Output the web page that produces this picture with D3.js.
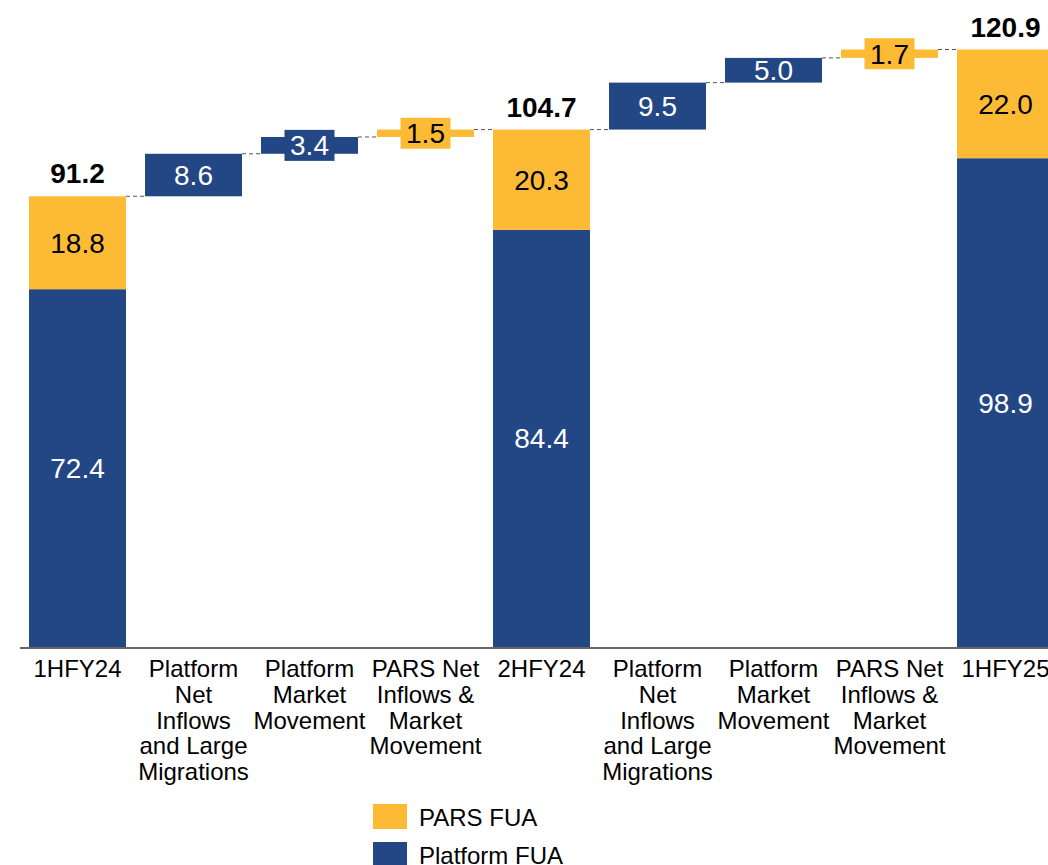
<!DOCTYPE html>
<html>
<head>
<meta charset="utf-8">
<script src="https://cdn.jsdelivr.net/npm/d3@7"></script>
<style>
  html, body { margin: 0; padding: 0; background: #fff; overflow: hidden; }
  svg { display: block; font-family: "Liberation Sans", Arial, sans-serif; }
</style>
</head>
<body>
<svg id="chart" width="1048" height="865"></svg>
<script>
// ---- Data ----
const categories = ["1HFY24", "Platform Net Inflows and Large Migrations", "Platform Market Movement",
  "PARS Net Inflows & Market Movement", "2HFY24", "Platform Net Inflows and Large Migrations ",
  "Platform Market Movement ", "PARS Net Inflows & Market Movement ", "1HFY25"];
const categoryLines = [
  ["1HFY24"],
  ["Platform", "Net", "Inflows", "and Large", "Migrations"],
  ["Platform", "Market", "Movement"],
  ["PARS Net", "Inflows &", "Market", "Movement"],
  ["2HFY24"],
  ["Platform", "Net", "Inflows", "and Large", "Migrations"],
  ["Platform", "Market", "Movement"],
  ["PARS Net", "Inflows &", "Market", "Movement"],
  ["1HFY25"]
];
const isTotal = [true, false, false, false, true, false, false, false, true];
const platformFUA = [72.4, 8.6, 3.4, null, 84.4, 9.5, 5.0, null, 98.9];
const parsFUA = [18.8, null, null, 1.5, 20.3, null, null, 1.7, 22.0];
const totalLabels = [91.2, null, null, null, 104.7, null, null, null, 120.9];
const legendItems = ["PARS FUA", "Platform FUA"];

// ---- Style ----
const BLUE = "#234785";
const ORANGE = "#FDBB35";
const W = 1048, H = 865;
const svg = d3.select("#chart");

const x = d3.scaleBand()
  .domain(categories)
  .range([19.5, 19.5 + 9 * 116])
  .paddingInner(0.164)
  .paddingOuter(0.082);

const y = d3.scaleLinear().domain([0, 120.9]).range([647, 49.5]);

// Build segments
const segs = [];
let cum = 0;
const ends = [];
categories.forEach((c, i) => {
  if (isTotal[i]) {
    segs.push({ c, i, y0: 0, y1: platformFUA[i], color: BLUE, val: platformFUA[i], txt: "#fff", small: false });
    segs.push({ c, i, y0: platformFUA[i], y1: platformFUA[i] + parsFUA[i], color: ORANGE, val: parsFUA[i], txt: "#000", small: false });
    cum = totalLabels[i];
  } else {
    const isP = platformFUA[i] != null;
    const v = isP ? platformFUA[i] : parsFUA[i];
    segs.push({ c, i, y0: cum, y1: cum + v, color: isP ? BLUE : ORANGE, val: v, txt: isP ? "#fff" : "#000", small: v < 4 });
    cum += v;
  }
  ends.push(cum);
});

// Connectors
const conn = svg.append("g");
for (let i = 0; i < categories.length - 1; i++) {
  conn.append("line")
    .attr("x1", x(categories[i]) + x.bandwidth())
    .attr("x2", x(categories[i + 1]))
    .attr("y1", y(ends[i]))
    .attr("y2", y(ends[i]))
    .attr("stroke", "#555")
    .attr("stroke-width", 1)
    .attr("stroke-dasharray", "4,3");
}

// Bars
svg.append("g").selectAll("rect").data(segs).join("rect")
  .attr("x", d => x(d.c))
  .attr("width", x.bandwidth())
  .attr("y", d => y(d.y1))
  .attr("height", d => y(d.y0) - y(d.y1))
  .attr("fill", d => d.color);

// Value labels
const FS = 28;
const lab = svg.append("g");
segs.forEach(d => {
  const cx = x(d.c) + x.bandwidth() / 2;
  const cy = (y(d.y0) + y(d.y1)) / 2;
  if (d.small) {
    lab.append("rect")
      .attr("x", cx - 25).attr("y", cy - 15.5)
      .attr("width", 50).attr("height", 31)
      .attr("fill", d.color);
  }
  lab.append("text")
    .attr("x", cx).attr("y", cy + FS * 0.358)
    .attr("text-anchor", "middle")
    .attr("font-size", FS)
    .attr("fill", d.txt)
    .text(d.val.toFixed(1));
});

// Totals
categories.forEach((c, i) => {
  if (totalLabels[i] == null) return;
  svg.append("text")
    .attr("x", x(c) + x.bandwidth() / 2)
    .attr("y", y(totalLabels[i]) - 13)
    .attr("text-anchor", "middle")
    .attr("font-size", 28)
    .attr("font-weight", "bold")
    .attr("fill", "#000")
    .text(totalLabels[i].toFixed(1));
});

// Axis baseline
svg.append("line")
  .attr("x1", 20).attr("x2", W)
  .attr("y1", y(0) + 1).attr("y2", y(0) + 1)
  .attr("stroke", "#333").attr("stroke-width", 1.5);

// Category labels
const cat = svg.append("g");
categories.forEach((c, i) => {
  const t = cat.append("text")
    .attr("text-anchor", "middle")
    .attr("font-size", 24)
    .attr("fill", "#000");
  categoryLines[i].forEach((ln, k) => {
    t.append("tspan")
      .attr("x", x(c) + x.bandwidth() / 2)
      .attr("y", 677 + k * 25.8)
      .text(ln);
  });
});

// Legend
const leg = svg.append("g");
legendItems.forEach((name, k) => {
  leg.append("rect")
    .attr("x", 373).attr("y", 804 + k * 38)
    .attr("width", 34).attr("height", 25)
    .attr("fill", k === 0 ? ORANGE : BLUE);
  leg.append("text")
    .attr("x", 419).attr("y", 826 + k * 38)
    .attr("font-size", 24)
    .attr("fill", "#000")
    .text(name);
});
</script>
</body>
</html>
